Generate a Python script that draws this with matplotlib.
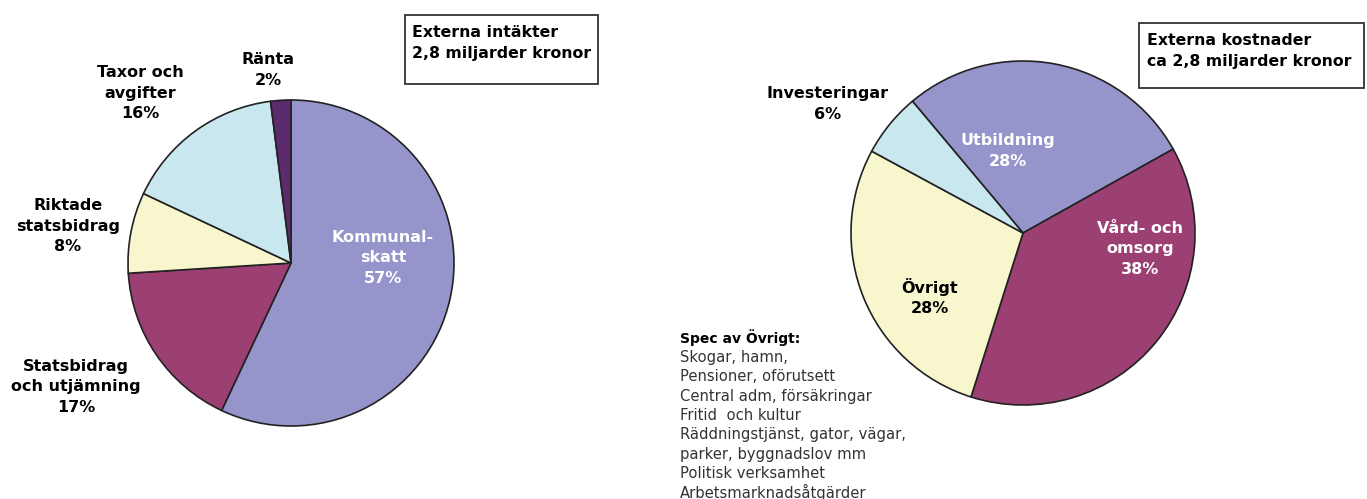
import matplotlib.pyplot as plt
from matplotlib.patches import Rectangle

# left pie: externa intäkter
in_labels = ["Kommunal-\nskatt", "Statsbidrag\noch utjämning", "Riktade\nstatsbidrag", "Taxor och\navgifter", "Ränta"]
in_values = [57, 17, 8, 16, 2]
in_colors = ["#9595cb", "#9c3f73", "#f8f6cc", "#c9e7ef", "#5c2b6e"]

# right pie: externa kostnader
out_labels = ["Utbildning", "Vård- och\nomsorg", "Övrigt", "Investeringar"]
out_values = [28, 38, 28, 6]
out_colors = ["#9595cb", "#9c3f73", "#f8f6cc", "#c9e7ef"]

spec_items = ["Skogar, hamn,", "Pensioner, oförutsett", "Central adm, försäkringar",
              "Fritid  och kultur", "Räddningstjänst, gator, vägar,",
              "parker, byggnadslov mm", "Politisk verksamhet", "Arbetsmarknadsåtgärder"]

W, H = 1367, 499
fig = plt.figure(figsize=(W / 100, H / 100), dpi=100)
ax = fig.add_axes([0, 0, 1, 1])

wp = dict(edgecolor="#222222", linewidth=1.2)
ax.pie(in_values, colors=in_colors, startangle=90, counterclock=False,
       center=(291, H - 263), radius=163, wedgeprops=wp, frame=True)
ax.pie(out_values, colors=out_colors, startangle=130, counterclock=False,
       center=(1023, H - 233), radius=172, wedgeprops=wp, frame=True)
ax.set_xlim(0, W)
ax.set_ylim(0, H)
ax.set_aspect("auto")
ax.axis("off")

fam = ["DejaVu Sans"]
fs = 11.5

def lab(x, y, s, color="black"):
    ax.text(x, H - y, s, ha="center", va="center", fontsize=fs, fontweight="bold",
            color=color, family=fam, linespacing=1.45)

# labels, left pie
lab(383, 258, in_labels[0] + "\n%d%%" % in_values[0], "white")
lab(76, 387, in_labels[1] + "\n%d%%" % in_values[1])
lab(68, 226, in_labels[2] + "\n%d%%" % in_values[2])
lab(140, 93, in_labels[3] + "\n%d%%" % in_values[3])
lab(268, 70, in_labels[4] + "\n%d%%" % in_values[4])

# labels, right pie
lab(1008, 151, out_labels[0] + "\n%d%%" % out_values[0], "white")
lab(1140, 249, out_labels[1] + "\n%d%%" % out_values[1], "white")
lab(930, 297, out_labels[2] + "\n%d%%" % out_values[2])
lab(828, 104, out_labels[3] + "\n%d%%" % out_values[3])

# boxes
ax.add_patch(Rectangle((405, H - 84), 193, 69, fc="white", ec="#333333", lw=1.3))
ax.text(412, H - 43, "Externa intäkter\n2,8 miljarder kronor", ha="left", va="center",
        fontsize=11.3, fontweight="bold", family=fam, linespacing=1.5)
ax.add_patch(Rectangle((1139, H - 88), 225, 65, fc="white", ec="#333333", lw=1.3))
ax.text(1147, H - 51, "Externa kostnader\nca 2,8 miljarder kronor", ha="left", va="center",
        fontsize=11.3, fontweight="bold", family=fam, linespacing=1.5)

# spec av övrigt
ax.text(680, H - 338, "Spec av Övrigt:", ha="left", va="center", fontsize=10,
        fontweight="bold", family=fam)
for i, s in enumerate(spec_items):
    ax.text(680, H - 357.5 - i * 19.3, s, ha="left", va="center", fontsize=10.6,
            color="#333333", family=fam)

fig.savefig("out.png", dpi=100)
